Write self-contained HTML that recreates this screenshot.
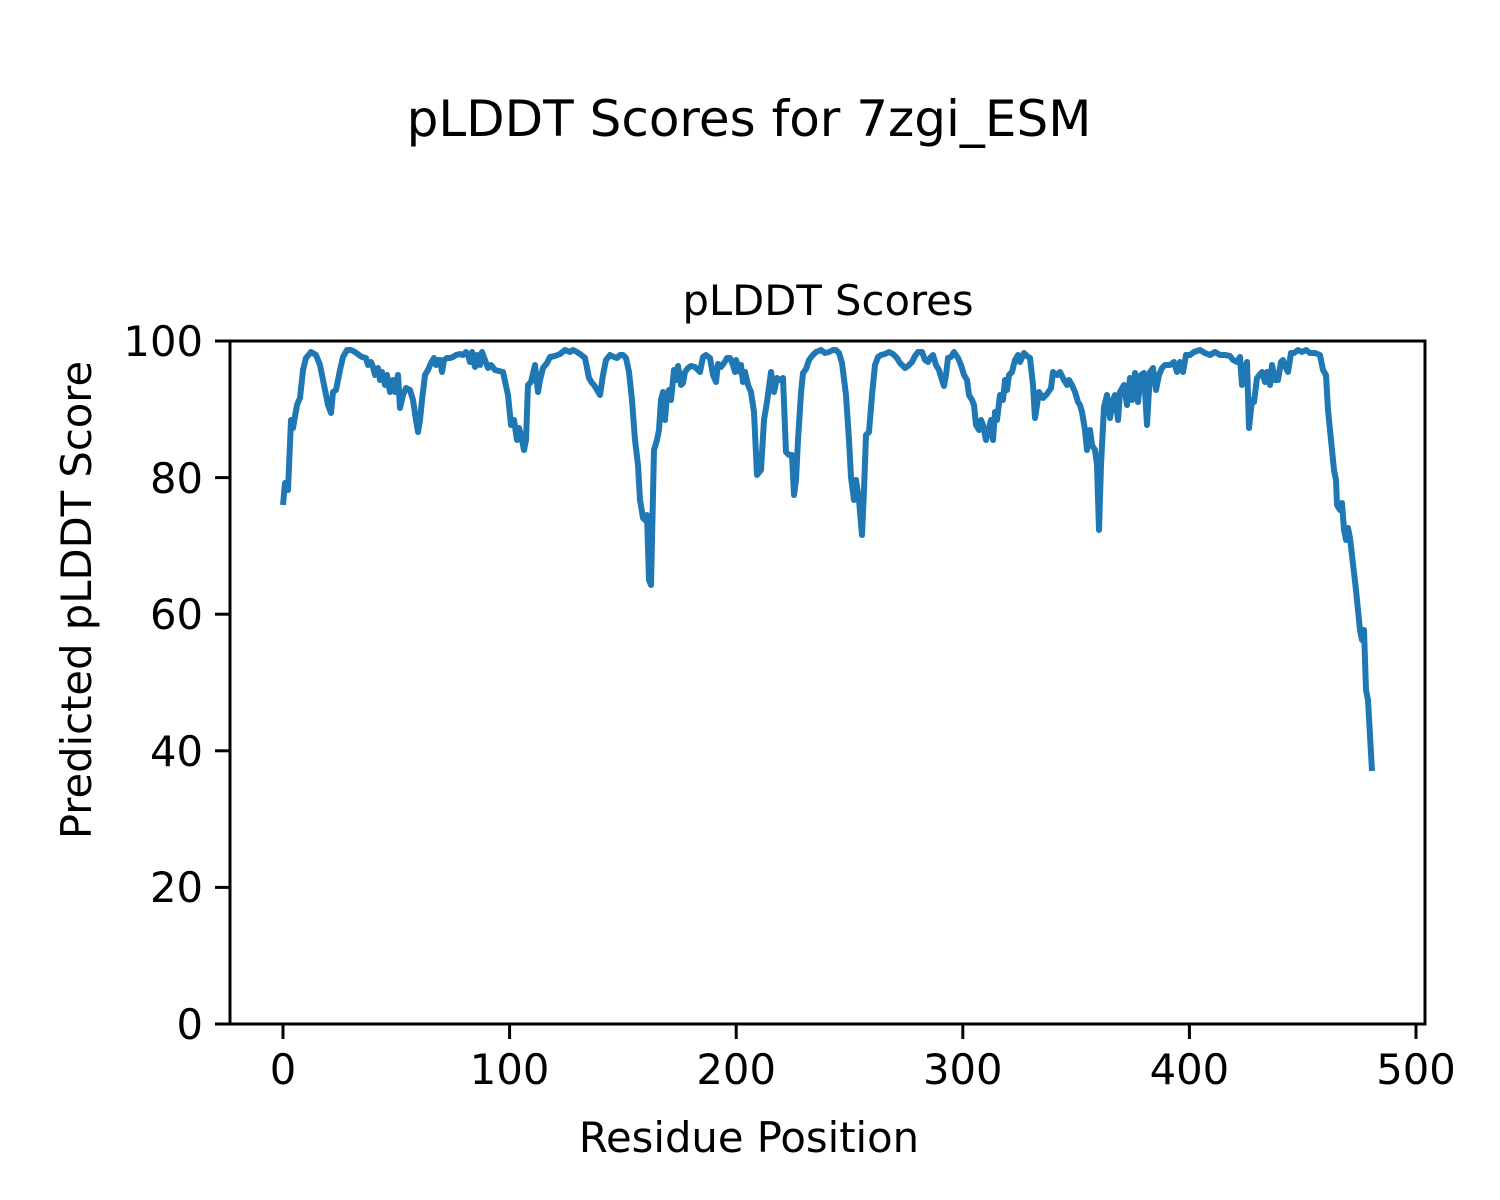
<!DOCTYPE html>
<html><head><meta charset="utf-8"><style>body{margin:0;background:#fff}svg{display:block}</style></head>
<body>
<svg width="1500" height="1200" xmlns="http://www.w3.org/2000/svg" font-family="DejaVu Sans, Liberation Sans, sans-serif">
<rect width="1500" height="1200" fill="#fff"/>
<text x="749" y="136" font-size="50" text-anchor="middle">pLDDT Scores for 7zgi_ESM</text>
<text x="828" y="315" font-size="41.7" text-anchor="middle">pLDDT Scores</text>
<polyline fill="none" stroke="#1f77b4" stroke-width="6" stroke-linejoin="round" points="283,505 285,483 288,490 291,420 293,428 297,405 300,398 303,370 306,358 311,352 316,355 320,365 324,385 328,405 331,413 333,392 336,390 340,370 343,357 347,350 351,350 355,352 359,355 362,357 366,358 368,365 371,362 373,367 375,375 378,368 380,380 382,372 385,385 387,375 390,392 393,380 395,392 398,375 400,408 403,395 406,388 410,390 413,400 416,420 418,432 420,420 422,400 425,375 428,370 431,363 434,358 436,365 438,360 440,360 442,372 444,360 447,358 450,358 453,357 456,355 460,354 463,355 466,352 468,355 470,362 472,352 475,367 477,355 480,365 482,352 485,360 488,368 491,365 495,370 503,372 508,395 511,425 514,420 517,440 519,428 521,435 524,450 526,440 528,385 531,382 535,365 538,392 540,380 543,368 547,363 550,357 555,356 560,354 565,350 570,352 573,350 577,352 580,354 585,358 589,378 592,383 594,385 597,390 600,395 603,375 606,360 610,355 614,357 617,358 620,355 623,355 626,358 629,372 632,400 635,440 638,465 640,500 643,518 645,520 647,515 649,580 651,585 654,450 657,440 659,430 661,400 663,392 665,420 667,395 669,390 671,400 674,370 676,380 678,366 681,385 683,383 685,372 688,368 691,366 695,367 698,370 700,372 703,357 706,355 710,358 713,375 716,382 718,364 721,367 724,363 727,358 730,358 733,365 735,372 736,360 740,372 741,365 743,382 745,372 748,385 751,392 754,412 757,475 761,470 764,420 767,402 771,372 774,392 777,378 780,380 783,378 786,452 789,455 792,455 794,495 796,480 798,440 801,393 803,373 806,369 809,360 812,356 816,352 821,350 825,353 829,352 833,350 836,350 839,353 842,363 846,395 849,440 851,477 854,500 856,480 859,500 862,535 864,490 866,435 869,432 872,395 875,365 878,357 881,355 885,354 889,352 893,354 897,358 900,363 905,368 908,366 912,362 915,356 918,352 922,352 925,360 928,362 930,358 933,355 936,365 939,370 942,380 944,386 946,375 948,358 951,357 954,352 958,358 961,365 964,375 967,380 969,395 972,400 974,405 976,425 979,430 981,420 983,425 986,440 989,428 991,420 993,440 995,412 997,420 1000,395 1003,400 1005,380 1007,390 1009,375 1012,372 1015,360 1018,355 1020,362 1024,353 1027,356 1030,358 1033,385 1035,418 1039,392 1043,398 1047,394 1051,388 1053,372 1057,375 1060,372 1064,380 1067,385 1069,380 1072,385 1075,392 1078,402 1080,405 1082,412 1085,430 1087,450 1090,430 1092,445 1095,450 1097,465 1099,530 1101,465 1104,407 1107,395 1110,418 1113,400 1115,395 1118,420 1120,392 1124,385 1127,405 1130,378 1132,400 1135,373 1138,402 1141,375 1144,373 1147,425 1150,372 1153,368 1156,390 1159,375 1162,368 1165,365 1170,365 1174,362 1177,372 1180,362 1183,372 1186,355 1190,355 1194,352 1200,350 1205,353 1210,355 1215,352 1220,355 1225,355 1230,356 1233,360 1237,362 1240,357 1242,385 1245,368 1247,362 1249,428 1252,400 1254,402 1257,378 1262,372 1265,382 1267,372 1270,385 1272,365 1275,380 1278,380 1281,362 1283,360 1286,368 1288,372 1291,353 1294,353 1298,350 1302,352 1306,350 1310,353 1315,353 1320,355 1323,370 1326,375 1328,410 1332,450 1334,470 1336,480 1337,505 1340,510 1342,503 1344,530 1346,540 1348,528 1350,538 1356,590 1360,630 1362,640 1364,630 1366,690 1368,700 1372,771"/>
<rect x="230" y="341" width="1195" height="683" fill="none" stroke="#000" stroke-width="3"/>
<g stroke="#000" stroke-width="3">
<line x1="215" y1="1024" x2="230" y2="1024"/><line x1="215" y1="887.4" x2="230" y2="887.4"/><line x1="215" y1="750.8" x2="230" y2="750.8"/><line x1="215" y1="614.2" x2="230" y2="614.2"/><line x1="215" y1="477.6" x2="230" y2="477.6"/><line x1="215" y1="341" x2="230" y2="341"/>
<line x1="283" y1="1024" x2="283" y2="1039"/><line x1="509.6" y1="1024" x2="509.6" y2="1039"/><line x1="736.2" y1="1024" x2="736.2" y2="1039"/><line x1="962.8" y1="1024" x2="962.8" y2="1039"/><line x1="1189.4" y1="1024" x2="1189.4" y2="1039"/><line x1="1416" y1="1024" x2="1416" y2="1039"/>
</g>
<g font-size="41.7" text-anchor="end">
<text x="203" y="1039">0</text><text x="203" y="902">20</text><text x="203" y="766">40</text><text x="203" y="629">60</text><text x="203" y="493">80</text><text x="203" y="356">100</text>
</g>
<g font-size="41.7" text-anchor="middle">
<text x="283" y="1084">0</text><text x="509.6" y="1084">100</text><text x="736.2" y="1084">200</text><text x="962.8" y="1084">300</text><text x="1189.4" y="1084">400</text><text x="1416" y="1084">500</text>
</g>
<text x="749" y="1152" font-size="41.7" text-anchor="middle">Residue Position</text>
<text transform="translate(91,600) rotate(-90)" font-size="41.7" text-anchor="middle">Predicted pLDDT Score</text>
</svg>
</body></html>
